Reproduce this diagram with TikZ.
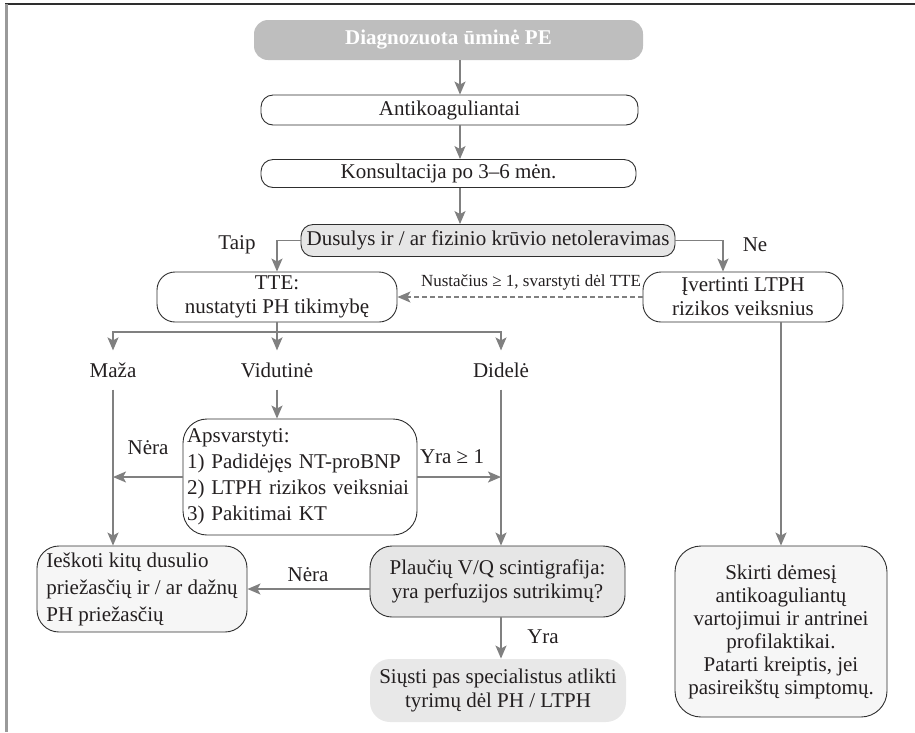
\documentclass[tikz,border=0pt]{standalone}
\usepackage{fontspec}
\setmainfont{Liberation Serif}
\definecolor{peText}{HTML}{231F20}
\definecolor{peLine}{HTML}{808080}
\definecolor{peEdge}{HTML}{2E2E2E}
\definecolor{peHead}{HTML}{BEBEBE}
\definecolor{peShade}{HTML}{E6E6E6}
\definecolor{pePale}{HTML}{F6F6F6}
\usepackage{tikz}
\usetikzlibrary{positioning,arrows.meta}

\tikzset{
  flowbox/.style={draw=peEdge, line width=0.9pt, rounded corners=12pt, inner sep=0pt,
    align=center, text=peText, font=\fontsize{21}{24}\selectfont},
  headbox/.style={fill=peHead, rounded corners=14pt, inner sep=0pt, text=white,
    font=\fontsize{21}{24}\selectfont\bfseries},
  flowlabel/.style={text=peText, inner sep=0pt, font=\fontsize{21}{24}\selectfont},
  levellabel/.style={flowlabel, inner xsep=0pt, inner ysep=12pt},
  flowline/.style={draw=peLine, line width=1.6pt},
  flowarrow/.style={flowline, -{Stealth[length=13pt,width=11pt,inset=3pt]}},
}

\begin{document}
\begin{tikzpicture}[x=1pt,y=-1pt]
  \useasboundingbox (0,0) rectangle (915,732);
  % Frame
  \draw[peEdge, line width=2pt] (5,4) -- (915,4);
  \draw[peLine!80, line width=3pt] (6,4) -- (6,732);

  % -- Main column --
  \node[headbox, minimum width=389pt, minimum height=40pt] (diag) at (448.5,40) {Diagnozuota ūminė PE};
  \node[flowbox, minimum width=377pt, minimum height=30pt] (anti) at (449.5,110) {Antikoaguliantai};
  \node[flowbox, minimum width=375pt, minimum height=28pt] (kons) at (448.5,173.5) {Konsultacija po 3–6 mėn.};
  \node[flowbox, fill=peShade, minimum width=374pt, minimum height=32pt] (dusul) at (488,240.5) {Dusulys ir / ar fizinio krūvio netoleravimas};

  % -- Second row --
  \node[flowbox, rounded corners=18pt, minimum width=240pt, minimum height=50pt] (tte) at (277,297) {TTE:\\nustatyti PH tikimybę};
  \node[flowbox, rounded corners=18pt, minimum width=200pt, minimum height=50pt] (ivert) at (743,297) {Įvertinti LTPH\\rizikos veiksnius};

  % -- Probability labels --
  \node[levellabel] (maza) at (113,370) {Maža};
  \node[levellabel] (vidut) at (277,370) {Vidutinė};
  \node[levellabel] (didele) at (501,370) {Didelė};

  % -- Lower boxes --
  \node[flowbox, rounded corners=24pt, minimum width=234pt, minimum height=116pt, text width=226pt, align=left,
    font=\fontsize{21}{26}\selectfont] (apsv) at (300,477)
    {Apsvarstyti:\\1) Padidėjęs NT-proBNP\\2) LTPH rizikos veiksniai\\3) Pakitimai KT};
  \node[flowbox, fill=pePale, rounded corners=22pt, minimum width=210pt, minimum height=86pt, align=left,
    font=\fontsize{21}{27}\selectfont] (iesk) at (142,589)
    {Ieškoti kitų dusulio\\priežasčių ir / ar dažnų\\PH priežasčių};
  \node[flowbox, fill=peShade, rounded corners=22pt, minimum width=255pt, minimum height=71pt] (plauc) at (497.5,581.5)
    {Plaučių V/Q scintigrafija:\\yra perfuzijos sutrikimų?};
  \node[flowbox, draw=none, fill=peShade!90, rounded corners=20pt, minimum width=256pt, minimum height=63pt] (siusti) at (498,690.5)
    {Siųsti pas specialistus atlikti\\tyrimų dėl PH / LTPH};
  \node[flowbox, fill=pePale, rounded corners=26pt, minimum width=212pt, minimum height=171pt,
    font=\fontsize{21}{23}\selectfont] (skirti) at (781,631.5)
    {Skirti dėmesį\\antikoaguliantų\\vartojimui ir antrinei\\profilaktikai.\\Patarti kreiptis, jei\\pasireikštų simptomų.};

  % -- Branch labels --
  \node[flowlabel] (taip) at (237,245) {Taip};
  \node[flowlabel] (ne) at (755,245) {Ne};
  \node[flowlabel] (nera1) at (148,448) {Nėra};
  \node[flowlabel] (yra1) at (452,457) {Yra ≥ 1};
  \node[flowlabel] (nera2) at (308,575) {Nėra};
  \node[flowlabel] (yra2) at (543,637) {Yra};
  \node[flowlabel, font=\fontsize{17}{20}\selectfont] (ttenote) at (531,282) {Nustačius ≥ 1, svarstyti dėl TTE};

  % -- Connectors --
  \coordinate (axis) at (460,0);
  \coordinate (neturn) at (723,0);
  \coordinate (split) at (277,332);
  \draw[flowarrow] (diag.south -| axis) -- (anti.north -| axis);
  \draw[flowarrow] (anti.south -| axis) -- (kons.north -| axis);
  \draw[flowarrow] (kons.south -| axis) -- (dusul.north -| axis);
  \draw[flowarrow] (dusul.west) -| (tte.north);
  \draw[flowarrow] (dusul.east) -| (ivert.north -| neturn);
  \draw[flowarrow, line width=1.2pt, dash pattern=on 5pt off 3pt] (ivert.west) -- (tte.east);
  \draw[flowarrow] (tte.south) -- (split) -| (maza.north);
  \draw[flowarrow] (split) -- (vidut.north);
  \draw[flowarrow] (split) -| (didele.north);
  \draw[flowarrow] (vidut.south) -- (vidut.south |- apsv.north);
  \draw[flowarrow] (maza.south) -- (maza.south |- iesk.north);
  \draw[flowarrow] (apsv.west) -- (apsv.west -| maza.south);
  \draw[flowarrow] (apsv.east) -- (apsv.east -| didele.south);
  \draw[flowarrow] (didele.south) -- (didele.south |- plauc.north);
  \draw[flowarrow] (plauc.west |- iesk.east) -- (iesk.east);
  \draw[flowarrow] (plauc.south -| didele) -- (siusti.north -| didele);
  \draw[flowarrow] (ivert.south -| skirti.north) -- (skirti.north);
\end{tikzpicture}
\end{document}
